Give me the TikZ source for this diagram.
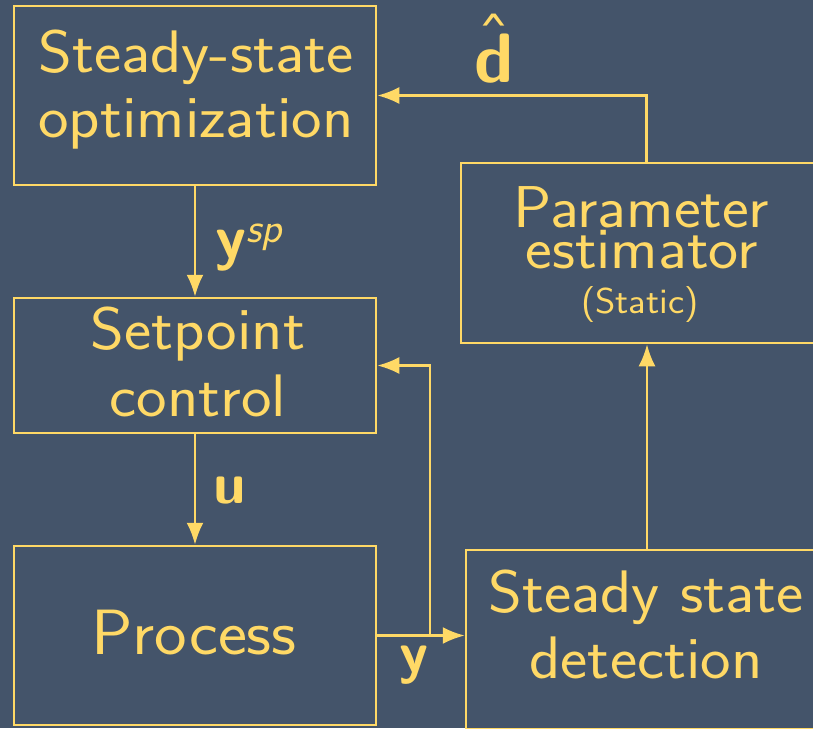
\documentclass[tikz,border=0pt]{standalone}
\usetikzlibrary{arrows.meta}
\definecolor{slate}{HTML}{44546A}
\definecolor{gold}{HTML}{FFD966}
\newcommand\fsz[2]{\sffamily\fontsize{#1}{#2}\selectfont}
% slightly wide lettering used in the blocks
\newcommand\wide[1]{\scalebox{1.08}[1]{#1}}
\begin{document}
\begin{tikzpicture}[x=1pt,y=-1pt,
  box/.style={draw=gold, line width=2.5pt, rectangle, inner sep=0pt},
  txt/.style={text=gold, inner sep=0pt, align=center},
  link/.style={draw=gold, line width=2.5pt},
  arr/.style={link, -{Latex[length=22pt,width=17pt]}}]
% canvas
\fill[slate] (0,0) rectangle (813,728);
\useasboundingbox (0,0) rectangle (813,728);

% blocks
\node[box, minimum width=362pt, minimum height=179pt] (opt)  at (195,95.5)  {};
\node[box, minimum width=362pt, minimum height=135pt] (sp)   at (195,365.5) {};
\node[box, minimum width=362pt, minimum height=179pt] (proc) at (195,635.5) {};
\node[box, minimum width=371pt, minimum height=180pt] (pe)   at (646.5,253) {};
\node[box, minimum width=362pt, minimum height=179pt] (ssd)  at (647,639.5) {};

% block texts
\node[txt, font=\fsz{60}{65}] (optlbl) at (196,89.5) {\wide{Steady-state}\\\wide{optimization}};
\node[txt, font=\fsz{60}{67}] (splbl) at (198,361.5) {\wide{Setpoint}\\\wide{control}};
\node[txt, font=\fsz{64}{64}] (proclbl) at (194,632.8) {\wide{Process}};
\node[txt, font=\fsz{59}{41}] (pelbl) at (641.5,227.4) {\wide{Parameter}\\\wide{estimator}};
\node[txt, font=\fsz{36}{36}, anchor=base] (pestatic) at (640,313) {\wide{(Static)}};
\node[txt, font=\fsz{60}{66}] (ssdlbl) at (646,624.2) {\wide{Steady state}\\\wide{detection}};

% signal labels
\node[txt, anchor=base west, font=\fsz{62}{62}\bfseries] (ysp) at (215,258)
  {y\raisebox{16pt}{\fsz{42}{42}\mdseries\itshape sp}};
\node[txt, anchor=base west, font=\fsz{58}{58}\bfseries] (ulbl) at (213,503) {u};
\node[txt, anchor=base west, font=\fsz{58}{58}\bfseries] (ylbl) at (399,672) {y};
\node[txt, anchor=base west, font=\fsz{70}{70}\bfseries] (dhat) at (474,82)
  {\ooalign{d\cr\hidewidth\raisebox{20pt}{\mdseries\char"02C6}\hidewidth\cr}};

% connectors
\coordinate (br) at (430,635.5);
\draw[arr] (opt.south) -- (sp.north);
\draw[arr] (sp.south) -- (proc.north);
\draw[arr] (proc.east) -- (proc.east -| ssd.west);
\draw[arr] (br) |- (sp.east);
\draw[arr] (ssd.north) -- (ssd.north |- pe.south);
\draw[arr] (pe.north) |- (opt.east);
\end{tikzpicture}
\end{document}
